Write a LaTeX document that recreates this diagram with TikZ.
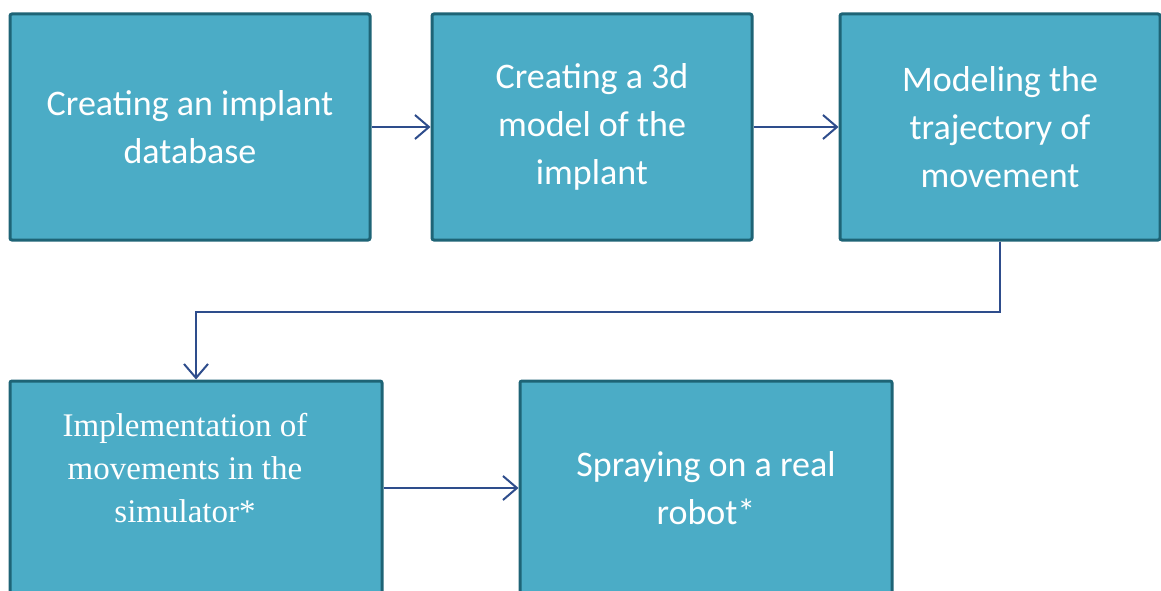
\documentclass[tikz,border=0pt]{standalone}
\usepackage{fontspec}
\setmainfont{Carlito}
\newfontfamily\timesface{Liberation Serif}
\usetikzlibrary{arrows.meta}
\definecolor{boxfill}{HTML}{4BACC6}
\definecolor{boxline}{HTML}{1E6476}
\definecolor{flow}{HTML}{2E4D8C}
\begin{document}
\begin{tikzpicture}[x=1pt,y=1pt,
    stage/.style={draw=boxline,fill=boxfill,line width=3pt,rounded corners=2pt,
          minimum height=226pt,text=white,align=center,
          font=\fontsize{36}{48}\selectfont},
    lowstage/.style={stage,minimum height=214pt,minimum width=372pt},
    flowline/.style={draw=flow,line width=2pt,-{Straight Barb[length=14pt,width=24pt,line width=2pt]}}]
  \useasboundingbox (0,0) rectangle (1161,590);
  \node[stage,minimum width=360pt] (a) at (190,463) {Creating an implant\\database};
  \node[stage,minimum width=320pt] (b) at (592,463) {Creating a 3d\\model of the\\implant};
  \node[stage,minimum width=320pt] (c) at (1000,463) {Modeling the\\trajectory of\\movement};
  \node[lowstage,label={[name=dtext,xshift=-11pt,yshift=20pt,text=white,align=center,
          font=\timesface\fontsize{33}{43}\selectfont]center:Implementation of\\movements in the\\simulator*}]
       (d) at (196,102) {};
  \node[lowstage] (e) at (706,102) {Spraying on a real\\robot*};
  \draw[flowline] (a) -- (b);
  \draw[flowline] (b) -- (c);
  \draw[flowline] (c.south) -- ++(0,-70) -| (d.north);
  \draw[flowline] (d.east |- e.west) -- (e.west);
\end{tikzpicture}
\end{document}
